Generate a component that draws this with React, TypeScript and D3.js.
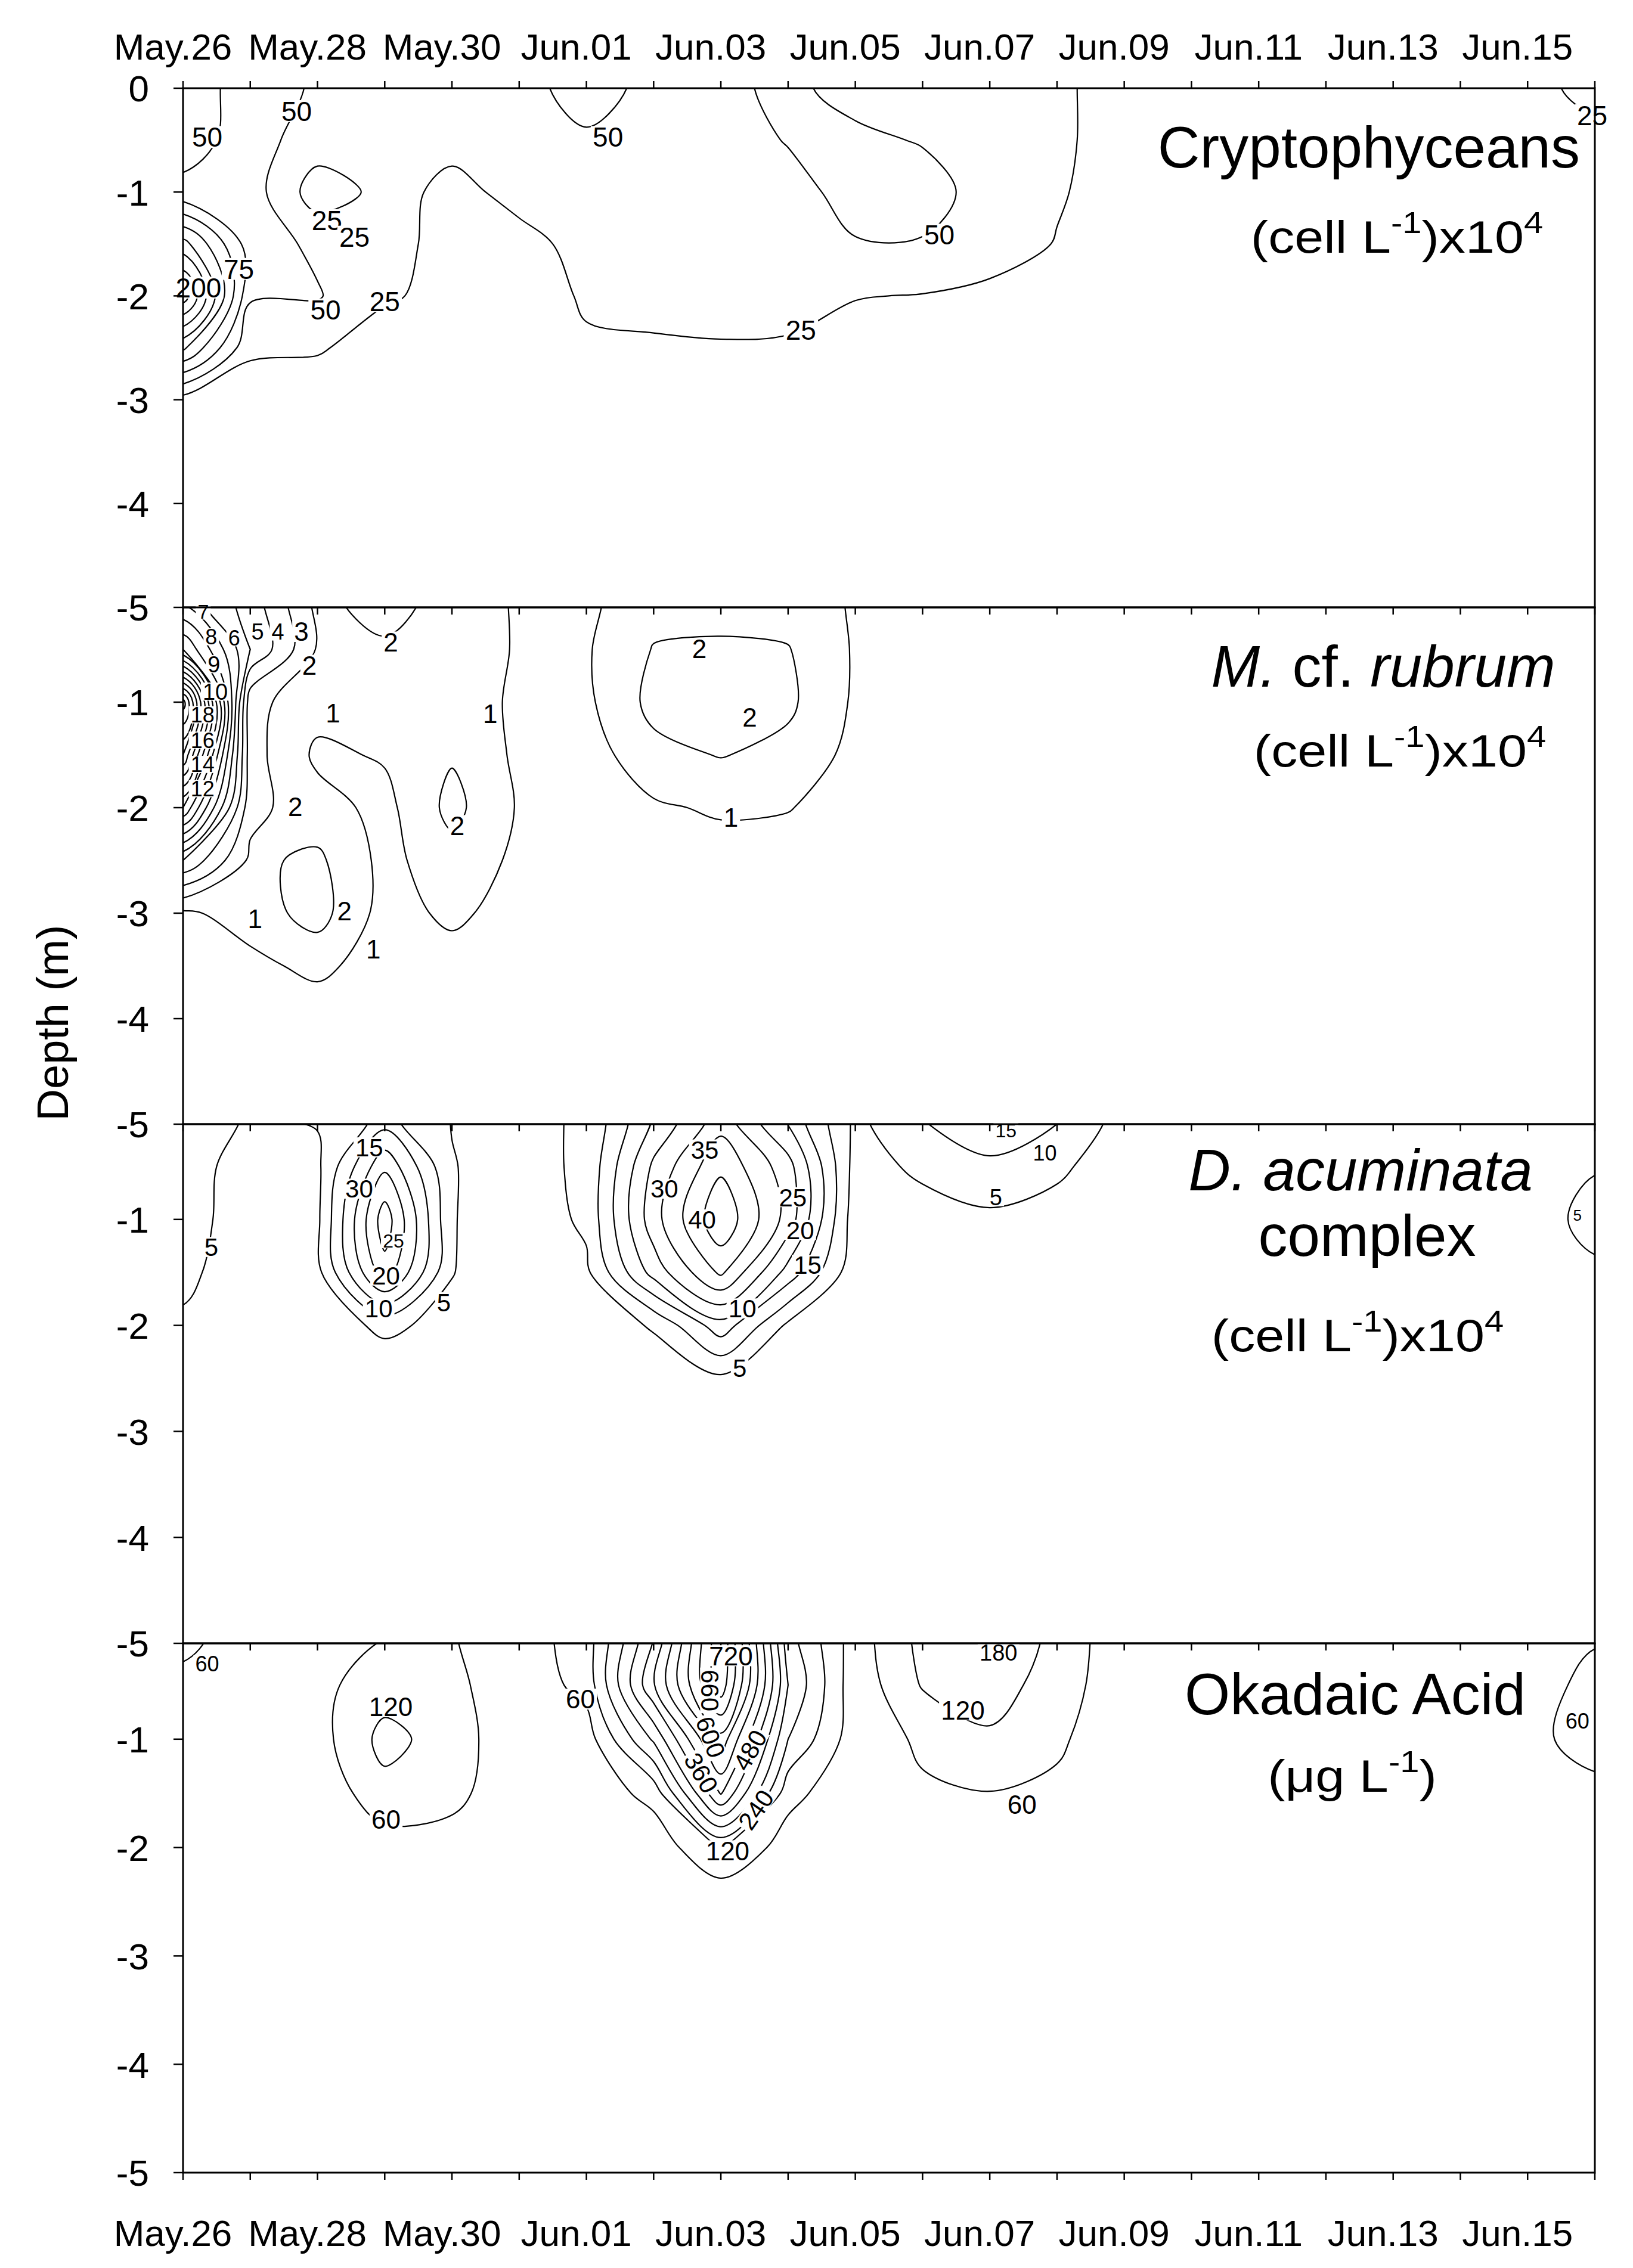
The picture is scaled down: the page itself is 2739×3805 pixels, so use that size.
import { useEffect, useRef } from "react";
import * as d3 from "d3";

const WIDTH = 2739;
const HEIGHT = 3805;

// grid: one column per day since May 26, one row per half metre of depth
const dayIndex = [0, 1, 2, 3, 4, 5, 6, 7, 8, 9, 10, 11, 12, 13, 14, 15, 16, 17, 18, 19, 20, 21];
const depthRows = [0, 0.5, 1, 1.5, 2, 2.5, 3, 3.5, 4, 4.5, 5];
const dateLabels = ["May.26", "May.28", "May.30", "Jun.01", "Jun.03", "Jun.05", "Jun.07", "Jun.09", "Jun.11", "Jun.13", "Jun.15"];

// Cryptophyceans (cell L-1 x10^4), columns = days, values top -> bottom
const cryptoCells = [
  [40, 40, 56, 160, 240, 130, 15, 6, 4, 3, 3],
  [58, 60, 62, 62, 53, 30, 10, 5, 4, 3, 3],
  [48, 38, 12, 45, 52, 28, 8, 5, 4, 3, 3],
  [40, 38, 32, 30, 28, 12, 5, 4, 3, 3, 3],
  [35, 30, 20, 20, 18, 8, 4, 3, 3, 3, 3],
  [45, 38, 30, 20, 12, 6, 4, 3, 3, 3, 3],
  [56, 48, 36, 30, 28, 22, 8, 4, 3, 3, 3],
  [46, 42, 38, 34, 30, 23, 8, 4, 3, 3, 3],
  [47, 42, 38, 34, 30, 24, 8, 4, 3, 3, 3],
  [53, 51, 44, 38, 31, 23, 8, 4, 3, 3, 3],
  [45, 53, 56, 49, 26, 15, 6, 4, 3, 3, 3],
  [40, 49, 56, 49, 24, 12, 5, 4, 3, 3, 3],
  [40, 42, 44, 35, 20, 10, 5, 4, 3, 3, 3],
  [28, 28, 27, 24, 14, 8, 4, 3, 3, 3, 3],
  [18, 18, 16, 14, 10, 6, 4, 3, 3, 3, 3],
  [15, 15, 14, 12, 9, 6, 4, 3, 3, 3, 3],
  [14, 14, 13, 11, 8, 5, 4, 3, 3, 3, 3],
  [13, 13, 12, 10, 8, 5, 3, 3, 3, 3, 3],
  [13, 12, 11, 10, 7, 5, 3, 3, 3, 3, 3],
  [15, 13, 11, 9, 7, 5, 3, 3, 3, 3, 3],
  [20, 16, 12, 9, 7, 5, 3, 3, 3, 3, 3],
  [30, 20, 13, 9, 7, 5, 3, 3, 3, 3, 3],
];

// M. cf. rubrum
const rubrumCells = [
  [6.5, 10, 19.5, 16, 11, 5, 0.8, 0.4, 0.3, 0.2, 0.2],
  [4.5, 5, 2.3, 2.4, 2.3, 1.8, 1.5, 0.7, 0.3, 0.2, 0.2],
  [1.7, 1.9, 1.4, 0.8, 1.4, 2.2, 2.4, 1.3, 0.3, 0.2, 0.2],
  [2.6, 1.8, 1.5, 1.1, 0.7, 0.7, 0.6, 0.4, 0.3, 0.2, 0.2],
  [1.5, 1.6, 1.6, 1.9, 2.3, 1.6, 1.2, 0.6, 0.3, 0.2, 0.2],
  [0.9, 0.9, 0.8, 0.8, 0.9, 0.8, 0.6, 0.4, 0.3, 0.2, 0.2],
  [0.8, 0.9, 0.8, 0.5, 0.4, 0.3, 0.2, 0.2, 0.2, 0.2, 0.2],
  [1.6, 2.05, 2.3, 1.7, 0.85, 0.4, 0.3, 0.2, 0.2, 0.2, 0.2],
  [1.7, 2.1, 2.6, 2.05, 1.15, 0.5, 0.3, 0.2, 0.2, 0.2, 0.2],
  [1.5, 2.05, 2.2, 1.7, 1.05, 0.5, 0.3, 0.2, 0.2, 0.2, 0.2],
  [0.9, 0.9, 0.85, 0.7, 0.5, 0.3, 0.2, 0.2, 0.2, 0.2, 0.2],
  [0.7, 0.7, 0.6, 0.5, 0.4, 0.3, 0.2, 0.2, 0.2, 0.2, 0.2],
  [0.6, 0.6, 0.5, 0.4, 0.3, 0.2, 0.2, 0.2, 0.2, 0.2, 0.2],
  [0.6, 0.6, 0.5, 0.4, 0.3, 0.2, 0.2, 0.2, 0.2, 0.2, 0.2],
  [0.5, 0.5, 0.5, 0.4, 0.3, 0.2, 0.2, 0.2, 0.2, 0.2, 0.2],
  [0.5, 0.5, 0.4, 0.4, 0.3, 0.2, 0.2, 0.2, 0.2, 0.2, 0.2],
  [0.5, 0.5, 0.4, 0.3, 0.3, 0.2, 0.2, 0.2, 0.2, 0.2, 0.2],
  [0.5, 0.4, 0.4, 0.3, 0.3, 0.2, 0.2, 0.2, 0.2, 0.2, 0.2],
  [0.4, 0.4, 0.4, 0.3, 0.3, 0.2, 0.2, 0.2, 0.2, 0.2, 0.2],
  [0.4, 0.4, 0.3, 0.3, 0.2, 0.2, 0.2, 0.2, 0.2, 0.2, 0.2],
  [0.4, 0.4, 0.3, 0.3, 0.2, 0.2, 0.2, 0.2, 0.2, 0.2, 0.2],
  [0.4, 0.4, 0.3, 0.3, 0.2, 0.2, 0.2, 0.2, 0.2, 0.2, 0.2],
];

// D. acuminata complex
const dinoCells = [
  [8, 6.5, 6.2, 5.8, 4.5, 2.5, 1, 0.5, 0.3, 0.2, 0.2],
  [4.6, 3.5, 3.5, 3, 2.5, 1.5, 0.6, 0.3, 0.2, 0.2, 0.2],
  [5.5, 4, 4, 3.5, 2.5, 1.5, 0.6, 0.3, 0.2, 0.2, 0.2],
  [11, 24, 33, 28, 6, 2, 1, 0.5, 0.3, 0.2, 0.2],
  [4.8, 5.2, 5.3, 5.2, 3.5, 1.5, 0.6, 0.3, 0.2, 0.2, 0.2],
  [4, 3, 1.5, 1, 0.8, 0.5, 0.3, 0.2, 0.2, 0.2, 0.2],
  [5.5, 6, 6, 4, 2, 1, 0.5, 0.3, 0.2, 0.2, 0.2],
  [20, 26, 28, 22, 5.5, 2, 1, 0.5, 0.3, 0.2, 0.2],
  [32, 39, 44, 36, 18, 4, 1, 0.5, 0.3, 0.2, 0.2],
  [18, 27, 28, 18, 4, 1.5, 0.6, 0.3, 0.2, 0.2, 0.2],
  [4, 3, 2, 1.5, 1, 0.6, 0.4, 0.3, 0.2, 0.2, 0.2],
  [10.5, 6, 3, 1.5, 1, 0.6, 0.4, 0.3, 0.2, 0.2, 0.2],
  [16, 8.5, 4, 2, 1, 0.6, 0.4, 0.3, 0.2, 0.2, 0.2],
  [11, 6, 3, 1.5, 1, 0.6, 0.4, 0.3, 0.2, 0.2, 0.2],
  [3, 2, 1.5, 1, 0.8, 0.5, 0.3, 0.2, 0.2, 0.2, 0.2],
  [2, 1.8, 1.5, 1, 0.8, 0.5, 0.3, 0.2, 0.2, 0.2, 0.2],
  [2, 1.8, 1.5, 1, 0.8, 0.5, 0.3, 0.2, 0.2, 0.2, 0.2],
  [2, 1.8, 1.6, 1.2, 0.8, 0.5, 0.3, 0.2, 0.2, 0.2, 0.2],
  [2, 2, 1.8, 1.4, 1, 0.5, 0.3, 0.2, 0.2, 0.2, 0.2],
  [2.2, 2.4, 2.5, 2, 1.2, 0.6, 0.3, 0.2, 0.2, 0.2, 0.2],
  [2.5, 3, 3.5, 3, 2, 1, 0.5, 0.3, 0.2, 0.2, 0.2],
  [3, 4.8, 6, 4.5, 2, 1, 0.5, 0.3, 0.2, 0.2, 0.2],
];

// Okadaic acid (ug L-1)
const okadaCells = [
  [80, 45, 30, 20, 12, 8, 5, 4, 3, 3, 3],
  [30, 28, 25, 18, 12, 8, 5, 4, 3, 3, 3],
  [30, 45, 35, 15, 10, 7, 5, 4, 3, 3, 3],
  [55, 90, 140, 100, 30, 12, 6, 4, 3, 3, 3],
  [62, 75, 90, 80, 30, 10, 5, 4, 3, 3, 3],
  [30, 20, 15, 10, 8, 6, 5, 4, 3, 3, 3],
  [90, 80, 30, 20, 10, 6, 5, 4, 3, 3, 3],
  [350, 415, 250, 80, 20, 8, 5, 4, 3, 3, 3],
  [780, 760, 580, 425, 125, 10, 6, 4, 3, 3, 3],
  [200, 240, 180, 80, 30, 10, 5, 4, 3, 3, 3],
  [30, 20, 25, 15, 8, 6, 5, 4, 3, 3, 3],
  [140, 125, 70, 52, 15, 8, 5, 4, 3, 3, 3],
  [195, 150, 110, 58, 20, 8, 5, 4, 3, 3, 3],
  [100, 90, 70, 48, 15, 8, 5, 4, 3, 3, 3],
  [20, 20, 18, 15, 10, 6, 5, 4, 3, 3, 3],
  [15, 15, 14, 12, 9, 6, 5, 4, 3, 3, 3],
  [15, 15, 14, 12, 9, 6, 5, 4, 3, 3, 3],
  [15, 15, 14, 12, 9, 6, 5, 4, 3, 3, 3],
  [16, 16, 15, 12, 9, 6, 5, 4, 3, 3, 3],
  [20, 22, 22, 16, 10, 6, 5, 4, 3, 3, 3],
  [30, 45, 50, 35, 15, 8, 5, 4, 3, 3, 3],
  [55, 70, 75, 50, 25, 10, 5, 4, 3, 3, 3],
];

const cryptoLevels = [25, 50, 75, 100, 125, 150, 175, 200, 225];
const rubrumLevels = [1, 2, 3, 4, 5, 6, 7, 8, 9, 10, 11, 12, 13, 14, 15, 16, 17, 18, 19];
const dinoLevels = [5, 10, 15, 20, 25, 30, 35, 40];
const okadaLevels = [60, 120, 180, 240, 300, 360, 420, 480, 540, 600, 660, 720];

// contour labels: [day, depth, text, font size?, rotation?]
const cryptoTags = [
  [0.36, 0.47, "50"], [1.69, 0.22, "50"], [6.32, 0.47, "50"], [2.14, 1.27, "25"],
  [2.55, 1.43, "25"], [0.83, 1.74, "75"], [0.23, 1.92, "200"], [2.12, 2.13, "50"],
  [3.0, 2.05, "25"], [9.19, 2.33, "25"], [11.25, 1.41, "50"], [20.96, 0.26, "25"],
];
const rubrumTags = [
  [0.3, 0.14, "7", 34], [0.42, 0.38, "8", 36], [0.76, 0.39, "6", 36], [1.11, 0.33, "5", 38],
  [1.41, 0.33, "4", 38], [1.76, 0.33, "3"], [0.46, 0.64, "9", 38], [0.48, 0.9, "10", 38],
  [1.88, 0.65, "2"], [0.29, 1.12, "18", 36], [0.29, 1.36, "16", 36], [0.29, 1.59, "14", 36],
  [0.29, 1.82, "12", 36], [2.23, 1.1, "1"], [3.09, 0.43, "2"], [4.57, 1.11, "1"],
  [1.67, 1.99, "2"], [4.08, 2.17, "2"], [1.07, 3.05, "1"], [2.4, 2.98, "2"],
  [2.83, 3.34, "1"], [7.68, 0.49, "2"], [8.43, 1.14, "2"], [8.15, 2.09, "1"],
];
const dinoTags = [
  [0.42, 1.26, "5"], [2.77, 0.32, "15"], [2.62, 0.71, "30"], [3.13, 1.2, "25", 32],
  [3.02, 1.53, "20"], [2.91, 1.84, "10"], [3.88, 1.78, "5"], [7.76, 0.34, "35"],
  [7.16, 0.71, "30"], [7.72, 1.0, "40"], [9.07, 0.79, "25"], [9.18, 1.1, "20"],
  [9.29, 1.43, "15"], [8.32, 1.84, "10"], [8.28, 2.4, "5"], [12.24, 0.16, "15", 32],
  [12.82, 0.37, "10", 36], [12.09, 0.79, "5", 38], [20.74, 0.96, "5", 26],
];
const okadaTags = [
  [0.36, 0.3, "60", 36], [3.09, 0.7, "120"], [3.02, 1.74, "60"], [5.91, 0.63, "60"],
  [8.15, 0.23, "720"], [7.84, 0.55, "660", 42, 90], [7.85, 0.98, "600", 42, 70],
  [7.71, 1.31, "360", 42, 60], [8.43, 1.1, "480", 42, -60], [8.52, 1.65, "240", 42, -55],
  [8.1, 2.03, "120"], [12.13, 0.2, "180", 38], [11.6, 0.73, "120"], [12.48, 1.6, "60"],
  [20.74, 0.83, "60", 36],
];

const FONT = "'Liberation Sans', Arial, Helvetica, sans-serif";

const panels = [
  { cells: cryptoCells, levels: cryptoLevels, tags: cryptoTags, tagSize: 46, top: 148, y0: 148, y5: 1019 },
  { cells: rubrumCells, levels: rubrumLevels, tags: rubrumTags, tagSize: 44, top: 1019, y0: 1001, y5: 1886 },
  { cells: dinoCells, levels: dinoLevels, tags: dinoTags, tagSize: 42, top: 1886, y0: 1868, y5: 2757 },
  { cells: okadaCells, levels: okadaLevels, tags: okadaTags, tagSize: 44, top: 2757, y0: 2736, y5: 3645 },
];

const App = () => {
  const svgRef = useRef(null);

  useEffect(() => {
    const svg = d3.select(svgRef.current);
    svg.selectAll("*").remove();
    svg.append("rect").attr("width", WIDTH).attr("height", HEIGHT).attr("fill", "#fff");

    const x = d3
      .scaleLinear()
      .domain([dayIndex[0], dayIndex[dayIndex.length - 1]])
      .range([307, 2675]);
    const [left, right] = x.range();
    const nx = dayIndex.length;
    const ny = depthRows.length;
    const dayAt = d3.scaleLinear().domain([0, nx - 1]).range([dayIndex[0], dayIndex[nx - 1]]);
    const depthAt = d3.scaleLinear().domain([0, ny - 1]).range([depthRows[0], depthRows[ny - 1]]);
    const smooth = d3.line().curve(d3.curveCatmullRomClosed.alpha(0.5));

    panels.forEach((p, k) => {
      const y = d3.scaleLinear().domain([0, -5]).range([p.y0, p.y5]);
      const clipId = `panel-clip-${k}`;
      svg
        .append("clipPath")
        .attr("id", clipId)
        .append("rect")
        .attr("x", left)
        .attr("y", p.top)
        .attr("width", right - left)
        .attr("height", p.y5 - p.top);

      // pad the grid by one cell so the contour rings close outside the frame
      const values = [];
      for (let j = -1; j <= ny; j++) {
        for (let i = -1; i <= nx; i++) {
          const ci = Math.max(0, Math.min(nx - 1, i));
          const cj = Math.max(0, Math.min(ny - 1, j));
          values.push(p.cells[ci][cj]);
        }
      }
      const rings = d3.contours().size([nx + 2, ny + 2]).thresholds(p.levels)(values);
      const toPx = ([px, py]) => [x(dayAt(px - 1.5)), y(-depthAt(py - 1.5))];
      const ringPath = (c) =>
        c.coordinates
          .map((poly) => poly.map((ring) => smooth(ring.slice(0, -1).map(toPx))).join(""))
          .join("");

      svg
        .append("g")
        .attr("clip-path", `url(#${clipId})`)
        .selectAll("path")
        .data(rings)
        .join("path")
        .attr("d", ringPath)
        .attr("fill", "none")
        .attr("stroke", "#000")
        .attr("stroke-width", 2.2)
        .attr("stroke-linejoin", "round");

      const tagLayer = svg.append("g").attr("font-family", FONT);
      p.tags.forEach(([d, z, t, s, r]) => {
        const fs = s || p.tagSize;
        const g = tagLayer
          .append("g")
          .attr("transform", `translate(${x(d)},${y(-z)}) rotate(${r || 0})`);
        const w = t.length * fs * 0.56 + 6;
        g.append("rect")
          .attr("x", -w / 2)
          .attr("y", -fs * 0.4)
          .attr("width", w)
          .attr("height", fs * 0.8)
          .attr("fill", "#fff");
        g.append("text")
          .attr("text-anchor", "middle")
          .attr("dy", "0.36em")
          .attr("font-size", fs)
          .text(t);
      });

      // frame
      svg
        .append("rect")
        .attr("x", left)
        .attr("y", p.top)
        .attr("width", right - left)
        .attr("height", p.y5 - p.top)
        .attr("fill", "none")
        .attr("stroke", "#000")
        .attr("stroke-width", 3);

      // bottom ticks of each panel
      svg
        .append("g")
        .selectAll("line")
        .data(dayIndex)
        .join("line")
        .attr("x1", (d) => x(d))
        .attr("x2", (d) => x(d))
        .attr("y1", p.y5)
        .attr("y2", p.y5 + 12)
        .attr("stroke", "#000")
        .attr("stroke-width", 2.5);

      const depthTicks = [0, 1, 2, 3, 4, 5].filter((v) => k === 0 || v > 0);
      svg
        .append("g")
        .selectAll("line")
        .data(depthTicks)
        .join("line")
        .attr("x1", left - 16)
        .attr("x2", left)
        .attr("y1", (v) => y(-v))
        .attr("y2", (v) => y(-v))
        .attr("stroke", "#000")
        .attr("stroke-width", 2.5);
      svg
        .append("g")
        .attr("font-family", FONT)
        .attr("font-size", 62)
        .attr("text-anchor", "end")
        .selectAll("text")
        .data(depthTicks)
        .join("text")
        .attr("x", 250)
        .attr("y", (v) => y(-v))
        .attr("dy", "0.36em")
        .text((v) => String(-v));
    });

    // top ticks of the first panel
    svg
      .append("g")
      .selectAll("line")
      .data(dayIndex)
      .join("line")
      .attr("x1", (d) => x(d))
      .attr("x2", (d) => x(d))
      .attr("y1", panels[0].top)
      .attr("y2", panels[0].top - 12)
      .attr("stroke", "#000")
      .attr("stroke-width", 2.5);

    // date labels, top and bottom
    [100, 3768].forEach((by) => {
      svg
        .append("g")
        .attr("font-family", FONT)
        .attr("font-size", 62)
        .attr("text-anchor", "middle")
        .selectAll("text")
        .data(dateLabels)
        .join("text")
        .attr("x", (_, i) => x(dayIndex[i * 2]) - 17)
        .attr("y", by)
        .text((t) => t);
    });

    svg
      .append("text")
      .attr("font-family", FONT)
      .attr("font-size", 74)
      .attr("text-anchor", "middle")
      .attr("transform", "translate(114,1716) rotate(-90)")
      .text("Depth (m)");

    const title = (cx, by, anchor) =>
      svg
        .append("text")
        .attr("font-family", FONT)
        .attr("font-size", 98)
        .attr("text-anchor", anchor)
        .attr("x", cx)
        .attr("y", by);

    const units = (cx, by, before, sup1, after, sup2) => {
      const t = svg
        .append("g")
        .attr("transform", `translate(${cx},${by}) scale(1.16,1)`)
        .append("text")
        .attr("font-family", FONT)
        .attr("font-size", 76)
        .attr("text-anchor", "middle");
      t.append("tspan").text(before);
      t.append("tspan").attr("font-size", 50).attr("dy", -33).text(sup1);
      t.append("tspan").attr("dy", 33).text(after);
      if (sup2) t.append("tspan").attr("font-size", 50).attr("dy", -33).text(sup2);
    };

    title(2650, 281, "end").text("Cryptophyceans");
    units(2343, 424, "(cell L", "-1", ")x10", "4");

    const t2 = title(2320, 1152, "middle");
    t2.append("tspan").attr("font-style", "italic").text("M.");
    t2.append("tspan").text(" cf. ");
    t2.append("tspan").attr("font-style", "italic").text("rubrum");
    units(2348, 1286, "(cell L", "-1", ")x10", "4");

    title(2282, 1997, "middle").attr("font-style", "italic").text("D. acuminata");
    title(2293, 2107, "middle").text("complex");
    units(2277, 2267, "(cell L", "-1", ")x10", "4");

    title(2273, 2876, "middle").text("Okadaic Acid");
    units(2268, 3006, "(\u03bcg L", "-1", ")", null);
  }, []);

  return (
    <svg
      ref={svgRef}
      width={WIDTH}
      height={HEIGHT}
      style={{ position: "absolute", left: 0, top: 0, display: "block" }}
    ></svg>
  );
};

export default App;
